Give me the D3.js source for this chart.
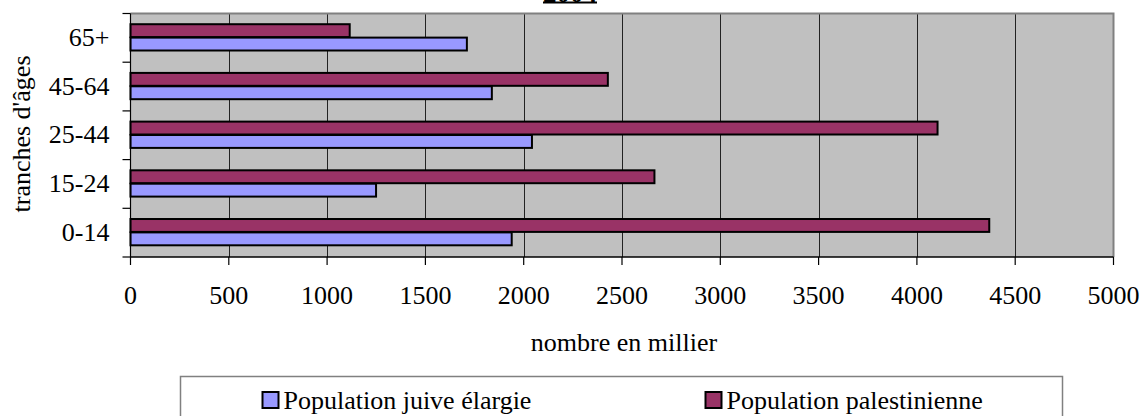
<!DOCTYPE html>
<html>
<head>
<meta charset="utf-8">
<script src="https://cdn.jsdelivr.net/npm/d3@7"></script>
<style>
  html, body { margin: 0; padding: 0; background: #fff; }
  svg { display: block; }
</style>
</head>
<body>
<svg id="chart" width="1141" height="416" font-family="'Liberation Serif', 'Times New Roman', serif"></svg>
<script>
const title = "2004";
const categories = ["65+", "45-64", "25-44", "15-24", "0-14"];
const seriesNames = ["Population palestinienne", "Population juive élargie"];
const palestinienne = [1115, 2428, 4105, 2665, 4368];
const juive = [1711, 1838, 2042, 1249, 1939];
const xTicks = [0, 500, 1000, 1500, 2000, 2500, 3000, 3500, 4000, 4500, 5000];
const xTitle = "nombre en millier";
const yTitle = "tranches d'âges";
const colors = { "Population palestinienne": "#993366", "Population juive élargie": "#9999ff" };

(function () {
const FF = "'Liberation Serif', 'Times New Roman', serif";
const FS = 26;
const svg = d3.select("#chart");
const pL = 130.5, pR = 1113.5, pT = 13.5, pB = 257;

const x = d3.scaleLinear().domain([0, 5000]).range([pL, pR]);
const y = d3.scaleBand().domain(categories).range([pT, pB]).padding(0);
const ys = d3.scaleBand().domain(seriesNames)
  .range([y.bandwidth() * 0.22, y.bandwidth() * 0.77]).padding(0);

// background
svg.append("rect").attr("x", pL).attr("y", pT)
  .attr("width", pR - pL).attr("height", pB - pT).attr("fill", "#c0c0c0");

// gridlines
svg.append("g").selectAll("line").data(xTicks.slice(1, -1)).join("line")
  .attr("x1", d => Math.round(x(d)) + 0.5).attr("x2", d => Math.round(x(d)) + 0.5)
  .attr("y1", pT).attr("y2", pB)
  .attr("stroke", "#222").attr("stroke-width", 1);

// plot border top/right
svg.append("path")
  .attr("d", `M${pL},${pT}H${pR}V${pB}`)
  .attr("fill", "none").attr("stroke", "#808080").attr("stroke-width", 2);

// bars
const rows = categories.map((c, i) => ({ c, vals: [
  { s: seriesNames[0], v: palestinienne[i] },
  { s: seriesNames[1], v: juive[i] }
]}));
const g = svg.append("g");
rows.forEach(r => {
  g.selectAll(null).data(r.vals).join("rect")
    .attr("x", x(0))
    .attr("y", d => y(r.c) + ys(d.s))
    .attr("width", d => x(d.v) - x(0))
    .attr("height", ys.bandwidth() - 0.5)
    .attr("fill", d => colors[d.s])
    .attr("stroke", "#000").attr("stroke-width", 2);
});

// y axis
const yAxisG = svg.append("g");
yAxisG.append("line").attr("x1", pL).attr("x2", pL).attr("y1", pT).attr("y2", pB)
  .attr("stroke", "#000").attr("stroke-width", 1.2);
const yTickPos = categories.map(c => y(c)).concat([pB]);
yAxisG.selectAll("line.t").data(yTickPos).join("line").attr("class", "t")
  .attr("x1", pL - 8).attr("x2", pL).attr("y1", d => d).attr("y2", d => d)
  .attr("stroke", "#000").attr("stroke-width", 1.2);
yAxisG.selectAll("text").data(categories).join("text")
  .attr("x", 109.5).attr("y", d => y(d) + y.bandwidth() / 2 + 8)
  .attr("font-family", FF)
  .attr("text-anchor", "end").attr("font-size", FS).text(d => d);

// x axis
const xAxisG = svg.append("g");
xAxisG.append("line").attr("x1", pL).attr("x2", pR).attr("y1", pB).attr("y2", pB)
  .attr("stroke", "#000").attr("stroke-width", 1.5);
xAxisG.selectAll("line.t").data(xTicks).join("line").attr("class", "t")
  .attr("x1", d => x(d)).attr("x2", d => x(d)).attr("y1", pB).attr("y2", pB + 8)
  .attr("stroke", "#000").attr("stroke-width", 1.2);
xAxisG.selectAll("text").data(xTicks).join("text")
  .attr("x", d => x(d)).attr("y", 304)
  .attr("font-family", FF)
  .attr("text-anchor", "middle").attr("font-size", FS).text(d => d);

// axis titles
svg.append("text").attr("x", 624).attr("y", 351).attr("text-anchor", "middle")
  .attr("font-family", FF).attr("font-size", FS).text(xTitle);
svg.append("text").attr("transform", "translate(30,134) rotate(-90)")
  .attr("font-family", FF)
  .attr("text-anchor", "middle").attr("font-size", FS).text(yTitle);

// title (cut off at top, as in reference)
svg.append("text").attr("x", 570).attr("y", 1.5).attr("text-anchor", "middle")
  .attr("font-family", FF)
  .attr("font-size", 27).attr("font-weight", "bold").text(title);
svg.append("line").attr("x1", 543).attr("x2", 597).attr("y1", 2.5).attr("y2", 2.5)
  .attr("stroke", "#000").attr("stroke-width", 2);

// legend
svg.append("rect").attr("x", 180.5).attr("y", 376.5).attr("width", 882).attr("height", 60)
  .attr("fill", "#fff").attr("stroke", "#808080").attr("stroke-width", 1.5);
const legendItems = [
  { s: seriesNames[1], x: 262.5 },
  { s: seriesNames[0], x: 705.5 }
];
const lg = svg.append("g").selectAll("g").data(legendItems).join("g")
  .attr("transform", d => `translate(${d.x},392)`);
lg.append("rect").attr("width", 16).attr("height", 16)
  .attr("fill", d => colors[d.s]).attr("stroke", "#000").attr("stroke-width", 2);
lg.append("text").attr("x", 21).attr("y", 17).attr("font-family", FF)
  .attr("font-size", FS).text(d => d.s);
})();
</script>
</body>
</html>
